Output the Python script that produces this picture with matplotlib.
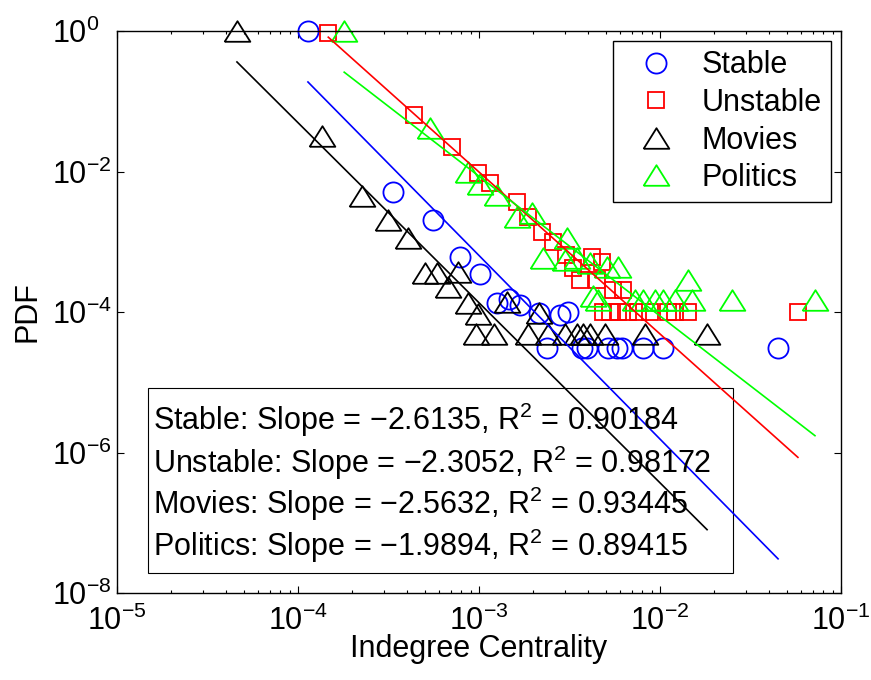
import matplotlib.pyplot as plt
import numpy as np
from matplotlib.patches import Rectangle
from matplotlib.ticker import NullLocator, LogLocator

plt.rcParams['font.family'] = ['Liberation Sans', 'DejaVu Sans']
plt.rcParams['mathtext.fontset'] = 'custom'
plt.rcParams['mathtext.rm'] = 'Liberation Sans'
plt.rcParams['mathtext.it'] = 'Liberation Sans:italic'
plt.rcParams['mathtext.default'] = 'regular'

# indegree centrality distributions
stable_x = [1.135e-4, 3.35e-4, 5.57e-4, 7.85e-4, 1.01e-3, 1.26e-3, 1.47e-3, 1.69e-3,
            2.14e-3, 2.38e-3, 2.8e-3, 3.1e-3, 3.7e-3, 3.95e-3, 5.16e-3, 5.78e-3,
            6.17e-3, 8.05e-3, 1.04e-2, 4.49e-2]
stable_y = [1.0, 5.1e-3, 2.04e-3, 6.07e-4, 3.47e-4, 1.34e-4, 1.53e-4, 1.26e-4,
            9.7e-5, 3.1e-5, 9.1e-5, 1.0e-4, 3.1e-5, 3.1e-5, 3.1e-5, 3.1e-5,
            3.1e-5, 3.1e-5, 3.1e-5, 3.1e-5]

unstable_x = [1.47e-4, 4.37e-4, 7.1e-4, 9.87e-4, 1.15e-3, 1.62e-3, 1.87e-3, 2.23e-3,
              2.56e-3, 3.03e-3, 4.21e-3, 4.78e-3, 3.3e-3, 3.6e-3, 4.49e-3, 5.5e-3,
              6.25e-3, 4.84e-3, 5.3e-3, 5.86e-3, 6.66e-3, 7.56e-3, 8.8e-3, 1.107e-2,
              1.21e-2, 1.43e-2, 5.78e-2]
unstable_y = [0.94, 6.37e-2, 2.23e-2, 9.5e-3, 6.9e-3, 3.68e-3, 2.25e-3, 1.38e-3,
              9.9e-4, 6.5e-4, 6.07e-4, 5.15e-4, 4.2e-4, 2.86e-4, 2.86e-4, 2.06e-4,
              2.06e-4, 1.0e-4, 1.0e-4, 1.0e-4, 1.0e-4, 1.0e-4, 1.0e-4, 1.0e-4,
              1.0e-4, 1.0e-4, 1.0e-4]

movies_x = [4.6e-5, 1.36e-4, 2.26e-4, 3.14e-4, 4.06e-4, 5.04e-4, 5.86e-4, 7.66e-4,
            6.74e-4, 8.69e-4, 9.87e-4, 9.62e-4, 1.21e-3, 1.43e-3, 1.87e-3, 2.14e-3,
            2.4e-3, 2.98e-3, 3.48e-3, 3.75e-3, 4.1e-3, 4.97e-3, 8.26e-3, 1.82e-2]
movies_y = [1.0, 3.2e-2, 4.48e-3, 2.04e-3, 1.13e-3, 3.59e-4, 3.59e-4, 3.71e-4,
            2.27e-4, 1.34e-4, 9.4e-5, 4.86e-5, 4.86e-5, 1.39e-4, 4.86e-5, 9.7e-5,
            4.86e-5, 4.86e-5, 4.86e-5, 4.86e-5, 4.86e-5, 4.86e-5, 4.86e-5, 4.86e-5]

politics_x = [1.8e-4, 5.36e-4, 8.69e-4, 1.01e-3, 1.26e-3, 1.62e-3, 1.96e-3, 2.26e-3,
              2.98e-3, 3.06e-3, 3.48e-3, 4.1e-3, 5.09e-3, 5.86e-3, 4.27e-3, 4.54e-3,
              7.28e-3, 8.05e-3, 9.4e-3, 1.04e-2, 1.21e-2, 1.43e-2, 1.5e-2, 2.5e-2,
              7.18e-2]
politics_y = [1.0, 4.16e-2, 9.8e-3, 6.6e-3, 4.63e-3, 2.25e-3, 2.57e-3, 5.87e-4,
              5.5e-4, 1.13e-3, 5.87e-4, 4.98e-4, 4.37e-4, 4.37e-4, 1.69e-4, 1.48e-4,
              1.48e-4, 1.48e-4, 1.48e-4, 1.48e-4, 1.48e-4, 2.86e-4, 1.48e-4, 1.48e-4,
              1.48e-4]

# power-law fits: log10(y) = intercept + slope * log10(x)
slopes = [-2.6135, -2.3052, -2.5632, -1.9894]
r2 = [0.90184, 0.98172, 0.93445, 0.89415]
intercepts = [-11.036, -8.923, -11.558, -8.036]

names = ['Stable', 'Unstable', 'Movies', 'Politics']
colors = ['#0000ff', '#ff0000', '#000000', '#00ff00']
tri = [(-1, -0.8), (1, -0.8), (0, 0.8), (-1, -0.8)]
markers = ['o', 's', tri, tri]
msizes = [14.5, 11.5, 18.5, 18.5]
xs = [stable_x, unstable_x, movies_x, politics_x]
ys = [stable_y, unstable_y, movies_y, politics_y]

fs = 22

fig = plt.figure(figsize=(8.71, 6.8), dpi=100)
ax = fig.add_axes([117 / 871, 1 - 593 / 680, 724 / 871, 562 / 680])

for x, y, c, m, ms, n in zip(xs, ys, colors, markers, msizes, names):
    ax.plot(x, y, linestyle='none', marker=m, markersize=ms, markerfacecolor='none',
            markeredgecolor=c, markeredgewidth=1.3, label=n, clip_on=False)

for x, s, b, c in zip(xs, slopes, intercepts, colors):
    xf = np.array([min(x), max(x)])
    ax.plot(xf, 10 ** b * xf ** s, color=c, linewidth=1.2)

ax.set_xscale('log')
ax.set_yscale('log')
ax.set_xlim(1e-5, 1e-1)
ax.set_ylim(1e-8, 1e0)
ax.set_xticks([1e-5, 1e-4, 1e-3, 1e-2, 1e-1])
ax.xaxis.set_minor_locator(LogLocator(base=10, subs=np.arange(2, 10)))
ax.set_yticks([1e-8, 1e-6, 1e-4, 1e-2, 1e0])
ax.yaxis.set_minor_locator(NullLocator())
ax.tick_params(which='both', direction='in', top=True, right=True, width=0.8)
ax.tick_params(which='major', length=5, labelsize=fs)
ax.tick_params(which='minor', length=2.5)
ax.tick_params(axis='x', pad=9)
ax.tick_params(axis='y', pad=47)
for lab in ax.get_yticklabels():
    lab.set_horizontalalignment('left')
for sp in ax.spines.values():
    sp.set_linewidth(1.0)

ax.set_xlabel('Indegree Centrality', fontsize=fs, labelpad=-2)
ax.set_ylabel('PDF', fontsize=fs, labelpad=7)

leg = ax.legend(loc='upper right', fontsize=fs, numpoints=1, handlelength=2.2,
                handletextpad=0.4, borderpad=0.3, labelspacing=0.25,
                borderaxespad=0.33, fancybox=False, framealpha=1)
leg.get_frame().set_edgecolor('black')
leg.get_frame().set_linewidth(1.0)

# fit summary box
ax.add_patch(Rectangle((0.0428, 0.0356), 0.808, 0.329, transform=ax.transAxes,
                       fill=False, edgecolor='black', linewidth=0.8))
ypos = [0.308, 0.231, 0.158, 0.084]
for n, s, r, yp in zip(names, slopes, r2, ypos):
    txt = '%s: Slope = \u2212%.4f, $R^2$ = %.5f' % (n, abs(s), r)
    ax.text(0.0497, yp, txt, transform=ax.transAxes, fontsize=fs, va='center', ha='left')

fig.savefig('out.png', dpi=100)
